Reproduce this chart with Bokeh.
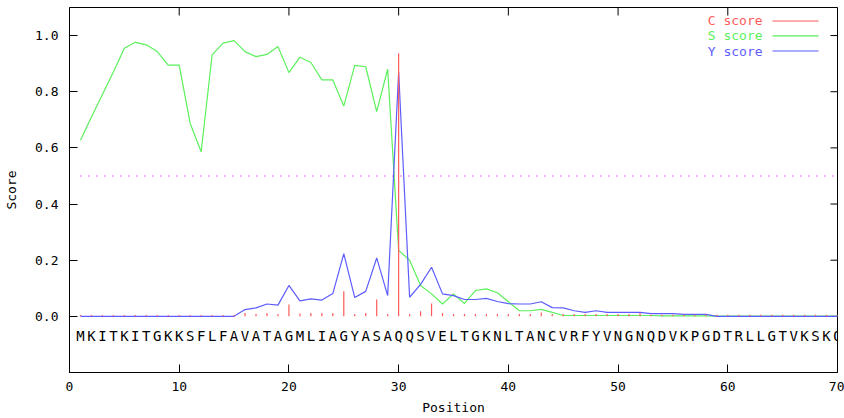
from bokeh.plotting import figure
from bokeh.models import Range1d, FixedTicker, PrintfTickFormatter, ColumnDataSource, LabelSet
from bokeh.core.properties import value
from bokeh.embed import file_html
from bokeh.resources import INLINE

# ---------------- data ----------------
sequence = "MKITKITGKKSFLFAVATAGMLIAGYASAQQSVELTGKNLTANCVRFYVNGNQDVKPGDTRLLGTVKSKQ"
positions = list(range(1, 71))

c_score = [0.005, 0.005, 0.005, 0.005, 0.005, 0.005, 0.005, 0.005, 0.005, 0.005,
           0.005, 0.005, 0.005, 0.005, 0.005, 0.012, 0.008, 0.012, 0.008, 0.042,
           0.010, 0.012, 0.012, 0.012, 0.089, 0.008, 0.012, 0.060, 0.008, 0.937,
           0.008, 0.018, 0.046, 0.012, 0.008, 0.008, 0.008, 0.008, 0.008, 0.008,
           0.008, 0.008, 0.014, 0.008, 0.008, 0.008, 0.008, 0.008, 0.008, 0.008,
           0.008, 0.012, 0.006, 0.006, 0.006, 0.006, 0.006, 0.006, 0.006, 0.006,
           0.006, 0.006, 0.006, 0.006, 0.006, 0.006, 0.006, 0.006, 0.006, 0.006]

s_score = [0.627, 0.710, 0.790, 0.870, 0.955, 0.976, 0.967, 0.943, 0.895, 0.895,
           0.687, 0.586, 0.931, 0.973, 0.982, 0.943, 0.925, 0.933, 0.961, 0.868,
           0.923, 0.904, 0.842, 0.842, 0.749, 0.894, 0.889, 0.729, 0.880, 0.235,
           0.200, 0.110, 0.080, 0.044, 0.080, 0.046, 0.092, 0.098, 0.084, 0.052,
           0.020, 0.020, 0.025, 0.014, 0.003, 0.003, 0.003, 0.003, 0.003, 0.003,
           0.003, 0.003, 0.003, 0.002, 0.002, 0.002, 0.002, 0.002, 0.001, 0.001,
           0.001, 0.001, 0.001, 0.001, 0.001, 0.001, 0.001, 0.001, 0.001, 0.001]

y_score = [0.000, 0.000, 0.000, 0.000, 0.000, 0.000, 0.000, 0.000, 0.000, 0.000,
           0.000, 0.000, 0.000, 0.000, 0.000, 0.024, 0.030, 0.044, 0.040, 0.110,
           0.055, 0.062, 0.058, 0.081, 0.223, 0.067, 0.089, 0.208, 0.074, 0.870,
           0.068, 0.114, 0.175, 0.080, 0.074, 0.060, 0.060, 0.064, 0.053, 0.045,
           0.044, 0.044, 0.052, 0.031, 0.030, 0.020, 0.014, 0.020, 0.014, 0.014,
           0.014, 0.014, 0.010, 0.010, 0.010, 0.007, 0.007, 0.007, 0.000, 0.000,
           0.000, 0.000, 0.000, 0.000, 0.000, 0.000, 0.000, 0.000, 0.000, 0.000]

threshold = 0.5
x_ticks = [0, 10, 20, 30, 40, 50, 60, 70]
y_ticks = [0.0, 0.2, 0.4, 0.6, 0.8, 1.0]
legend_labels = ["C score", "S score", "Y score"]

# ---------------- style / layout ----------------
RED = "#ff5a5a"
GREEN = "#5cf05c"
BLUE = "#5c5cff"
MAGENTA = "#ff30ff"
FONT = "DejaVu Sans Mono"

X0, X1 = 0, 70
Y0, Y1 = -0.2, 1.1
W, H = 844, 418
BL, BR, BT, BB = 69, 7, 7, 46
FRAME_W = W - BL - BR
FRAME_H = H - BT - BB

p = figure(width=W, height=H,
           x_range=Range1d(X0, X1), y_range=Range1d(Y0, Y1),
           output_backend="svg", toolbar_location=None,
           min_border_left=BL, min_border_right=BR,
           min_border_top=BT, min_border_bottom=BB)
p.grid.visible = False
p.outline_line_color = "black"
p.outline_line_width = 1
p.background_fill_color = "white"
p.border_fill_color = "white"

for ax in (p.xaxis[0], p.yaxis[0]):
    ax.major_tick_in = 8
    ax.major_tick_out = 0
    ax.minor_tick_in = 0
    ax.minor_tick_out = 0
    ax.axis_line_color = "black"
    ax.major_tick_line_color = "black"
    ax.major_label_text_font = FONT
    ax.major_label_text_font_size = "13px"
    ax.major_label_text_color = "black"
    ax.axis_label_text_font = FONT
    ax.axis_label_text_font_size = "13px"
    ax.axis_label_text_font_style = "normal"
    ax.axis_label_text_color = "black"

p.xaxis[0].ticker = FixedTicker(ticks=x_ticks, minor_ticks=[])
p.xaxis[0].formatter = PrintfTickFormatter(format="%d")
p.xaxis[0].axis_label = "Position"
p.xaxis[0].major_label_standoff = 9
p.xaxis[0].axis_label_standoff = 6

p.yaxis[0].ticker = FixedTicker(ticks=y_ticks, minor_ticks=[])
p.yaxis[0].formatter = PrintfTickFormatter(format="%.1f")
p.yaxis[0].axis_label = "Score"
p.yaxis[0].major_label_standoff = 11
p.yaxis[0].axis_label_standoff = 13

# mirrored ticks on top and right edges (inward), from the same tick lists
dy_top = 8 * (Y1 - Y0) / FRAME_H
dx_right = 7 * (X1 - X0) / FRAME_W
p.segment(x0=x_ticks, y0=[Y1] * len(x_ticks), x1=x_ticks, y1=[Y1 - dy_top] * len(x_ticks),
          line_color="black", line_width=1)
p.segment(x0=[X1] * len(y_ticks), y0=y_ticks, x1=[X1 - dx_right] * len(y_ticks), y1=y_ticks,
          line_color="black", line_width=1)

# threshold
p.line([positions[0], positions[-1]], [threshold, threshold],
       line_color=MAGENTA, line_width=1.5, line_dash="1 7")

# series
p.line(positions, s_score, line_color=GREEN, line_width=1.2)
p.line(positions, y_score, line_color=BLUE, line_width=1.2)
p.segment(x0=positions, y0=[0] * len(positions), x1=positions, y1=c_score,
          line_color=RED, line_width=1.2)

# sequence letters (one residue per position)
seq_src = ColumnDataSource(dict(x=positions, y=[-0.069] * len(positions), t=list(sequence)))
p.add_layout(LabelSet(x="x", y="y", text="t", source=seq_src,
                      text_font=value(FONT), text_font_size="14px", text_color="black",
                      text_align="center", text_baseline="middle"))

# legend (text left of line sample, as in the reference)
leg_y = [1.052, 0.999, 0.945]
leg_colors = [RED, GREEN, BLUE]
p.text(x=[63.17] * 3, y=leg_y, text=legend_labels, text_color=leg_colors,
       text_font=value(FONT), text_font_size="13px",
       text_align="right", text_baseline="middle")
p.segment(x0=[64.08] * 3, y0=leg_y, x1=[68.27] * 3, y1=leg_y,
          line_color=leg_colors, line_width=1.2)

open("out.html", "w").write(file_html(p, INLINE))
